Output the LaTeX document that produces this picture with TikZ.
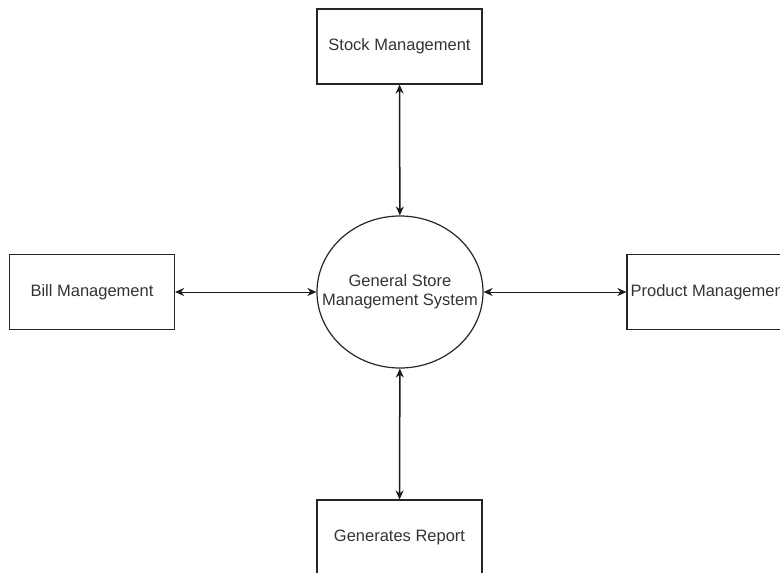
\documentclass[tikz,border=0pt]{standalone}
\usepackage{fontspec}
\setmainfont{Liberation Sans}
\usetikzlibrary{arrows.meta,shapes.geometric}
\definecolor{txt}{HTML}{333333}
\tikzset{
  lbl/.style={font=\fontsize{16.5}{19}\selectfont, text=txt},
  box/.style={draw=black!85, line width=1.2pt, minimum width=165pt, minimum height=75pt, inner sep=0pt, lbl},
  proc/.style={draw=black!85, line width=1.2pt, ellipse, minimum width=166pt, minimum height=152pt, inner sep=0pt},
  link/.style={line width=1.1pt, black!90, {Stealth[length=9pt,width=8pt]}-{Stealth[length=9pt,width=8pt]}},
  vlink/.style={link, line width=1.5pt},
  hlink/.style={link, line width=1pt}
}
\begin{document}
\begin{tikzpicture}[x=1pt,y=-1pt]
\useasboundingbox (0,0) rectangle (780,573);
\clip (0,0) rectangle (780,573);
\node[proc, label={[lbl, align=center]center:General Store\\Management System}] (gs) at (400,292) {};
\node[box] (stock) at (399.5,46.5) {Stock Management};
\node[box] (bill) at (92,292) {Bill Management};
\node[box] (prod) at (709.5,292) {Product Management};
\node[box] (rep) at (399.5,537.5) {Generates Report};
\draw[vlink] (stock) -- (gs);
\draw[hlink] (bill) -- (gs);
\draw[hlink] (prod) -- (gs);
\draw[vlink] (rep) -- (gs);
\end{tikzpicture}
\end{document}
